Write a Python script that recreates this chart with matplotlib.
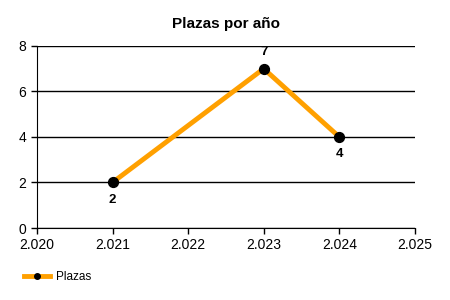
import matplotlib
matplotlib.use('Agg')
import matplotlib.pyplot as plt
from matplotlib.ticker import FuncFormatter, MultipleLocator
from matplotlib.lines import Line2D

plt.rcParams['font.family'] = ['Liberation Sans', 'DejaVu Sans']

years = [2021, 2023, 2024]
plazas = [2, 7, 4]
label_pos = ['below', 'above', 'below']

fig = plt.figure(figsize=(4.5, 3), dpi=100)
ax = fig.add_axes([0.082, 0.24, 0.84, 0.607])

ax.plot(years, plazas, color='#FFA000', linewidth=3.5, zorder=2,
        solid_capstyle='butt')
ax.scatter(years, plazas, s=50, color='black', zorder=3)

for x, y, pos in zip(years, plazas, label_pos):
    dy = 8 if pos == 'above' else -8
    va = 'bottom' if pos == 'above' else 'top'
    ax.annotate(str(y), (x, y), xytext=(0, dy), textcoords='offset points',
                ha='center', va=va, fontsize=9.5, fontweight='bold', color='#000000')

ax.set_xlim(2020, 2025)
ax.set_ylim(0, 8)
ax.xaxis.set_major_locator(MultipleLocator(1))
ax.yaxis.set_major_locator(MultipleLocator(2))
ax.xaxis.set_major_formatter(FuncFormatter(lambda v, p: f"{int(round(v)):,}".replace(',', '.')))
ax.yaxis.grid(True, color='black', linewidth=1)
ax.set_axisbelow(True)
for s in ['top', 'right']:
    ax.spines[s].set_visible(False)
ax.tick_params(axis='both', labelsize=10, length=4, width=1)

ax.set_title('Plazas por año', fontsize=11, fontweight='bold', pad=13)

handle = Line2D([], [], color='#FFA000', linewidth=3.5, marker='o',
                markersize=4, markerfacecolor='black', markeredgecolor='black')
fig.legend([handle], ['Plazas'], loc='lower left', bbox_to_anchor=(0.03, 0.02),
           frameon=False, fontsize=8.5, handlelength=2.2, handletextpad=0.5)

fig.savefig('out.png', dpi=100)
